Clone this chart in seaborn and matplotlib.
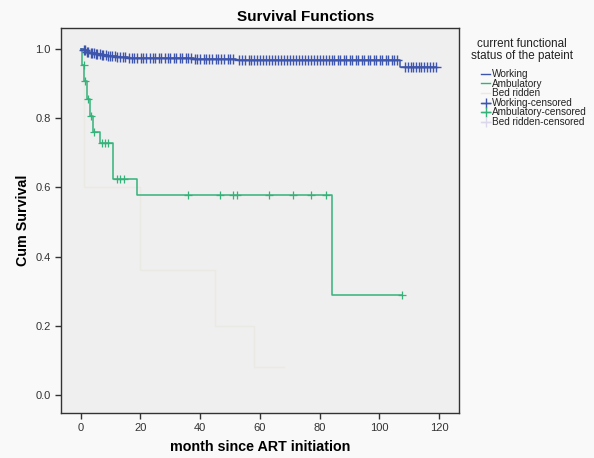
import seaborn as sns
import matplotlib.pyplot as plt
from matplotlib.lines import Line2D
import pandas as pd

# Kaplan-Meier steps
work_t = [0, 1, 2, 3, 5, 7, 9, 12, 16, 24, 38, 52, 107, 119]
work_s = [1.0, 0.996, 0.993, 0.990, 0.987, 0.984, 0.981, 0.978, 0.975, 0.973, 0.971, 0.968, 0.948, 0.948]

amb_t = [0, 0.5, 1.2, 2.0, 3.1, 4.2, 6.3, 10.8, 19.0, 84.0, 107.5]
amb_s = [1.0, 0.953, 0.908, 0.857, 0.808, 0.760, 0.729, 0.625, 0.578, 0.289, 0.289]

bed_t = [0, 1, 20, 40, 45, 52, 58, 68]
bed_s = [1.0, 0.60, 0.36, 0.36, 0.20, 0.20, 0.08, 0.08]

# censored observations
work_cens_t = [1.0, 1.5, 2.2, 2.6, 3.3, 3.8, 4.4, 5.0, 5.6, 6.3, 7.0, 7.6, 8.4, 9.1, 9.8,
               10.6, 11.4, 12.3, 13.1, 14.0, 15.0, 16.2, 17.1, 18.0, 19.0, 20.1, 21.0,
               22.0, 23.1, 24.2, 25.0, 26.1, 27.0, 28.2, 29.1, 30.0, 31.2, 32.0, 33.1,
               34.0, 35.2, 36.1, 37.0, 38.3, 39.0, 40.1, 41.2, 42.0, 43.1, 44.0, 45.2,
               46.0, 47.1, 48.0, 49.2, 50.1, 51.0, 53.0, 54.1, 55.0, 56.2, 57.0, 58.1,
               59.0, 60.2, 61.0, 62.1, 63.0, 64.2, 65.1, 66.0, 67.2, 68.0, 69.1, 70.0,
               71.2, 72.0, 73.1, 74.0, 75.2, 76.1, 77.0, 78.2, 79.0, 80.1, 81.0, 82.2,
               83.0, 84.1, 85.0, 86.2, 87.0, 88.1, 89.0, 90.2, 91.0, 92.1, 93.0, 94.2,
               95.0, 96.1, 97.0, 98.2, 99.0, 100.1, 101.0, 102.2, 103.0, 104.1, 105.0,
               106.0, 108.5, 109.6, 110.5, 111.4, 112.3, 113.2, 114.1, 115.0, 116.0,
               117.0, 118.0, 119.0]
amb_cens_t = [1.0, 1.6, 2.4, 3.4, 4.6, 7.2, 8.0, 9.2, 12.2, 13.2, 14.6,
              36.0, 46.5, 51.0, 52.2, 63.0, 71.0, 77.0, 82.0, 107.5]
amb_cens_s = [0.953, 0.908, 0.857, 0.808, 0.760, 0.729, 0.729, 0.729, 0.625, 0.625, 0.625,
              0.578, 0.578, 0.578, 0.578, 0.578, 0.578, 0.578, 0.578, 0.289]

blue = "#3e55ad"
green = "#35b27a"
beige = "#ebe9e4"
lilac = "#dcd8ec"


def step_value(ts, ss, x):
    v = ss[0]
    for t, s in zip(ts, ss):
        if t <= x:
            v = s
    return v


work_cens_s = [step_value(work_t, work_s, t) for t in work_cens_t]

work = pd.DataFrame({"t": work_t, "s": work_s})
amb = pd.DataFrame({"t": amb_t, "s": amb_s})
bed = pd.DataFrame({"t": bed_t, "s": bed_s})

plt.rcParams["font.family"] = ["Liberation Sans", "DejaVu Sans"]
fig = plt.figure(figsize=(5.94, 4.58), dpi=100, facecolor="#f9f9f9")
ax = fig.add_axes([61 / 594, 45 / 458, 398 / 594, 385 / 458])
ax.set_facecolor("#efefef")

sns.lineplot(data=bed, x="t", y="s", ax=ax, color=beige, drawstyle="steps-post",
             estimator=None, linewidth=1)
sns.lineplot(data=amb, x="t", y="s", ax=ax, color=green, drawstyle="steps-post",
             estimator=None, linewidth=1.1)
sns.lineplot(data=work, x="t", y="s", ax=ax, color=blue, drawstyle="steps-post",
             estimator=None, linewidth=1.1)
sns.scatterplot(x=amb_cens_t, y=amb_cens_s, ax=ax, marker="+", color=green,
                s=28, linewidth=0.9, zorder=4)
sns.scatterplot(x=work_cens_t, y=work_cens_s, ax=ax, marker="+", color=blue,
                s=45, linewidth=1.0, zorder=5)

ax.set_xlim(-6.6, 126.7)
ax.set_ylim(-0.052, 1.061)
ax.set_xticks([0, 20, 40, 60, 80, 100, 120])
ax.set_yticks([0.0, 0.2, 0.4, 0.6, 0.8, 1.0])
ax.set_yticklabels(["0.0", "0.2", "0.4", "0.6", "0.8", "1.0"])
ax.tick_params(direction="out", length=4, width=1, labelsize=8,
               colors="#333333", labelcolor="#333333")
for sp in ax.spines.values():
    sp.set_color("#333333")
    sp.set_linewidth(1)

ax.set_xlabel("month since ART initiation", fontsize=10.3, fontweight="bold", labelpad=5)
ax.set_ylabel("Cum Survival", fontsize=10.3, fontweight="bold", labelpad=4)
fig.suptitle("Survival Functions", x=0.515, y=1 - 10 / 458, va="top",
             fontsize=11, fontweight="bold")

# legend title drawn on its own so it can sit left of the entries' centre
fig.text(522 / 594, 1 - 50 / 458, "current functional\nstatus of the pateint",
         ha="center", va="center", fontsize=8.4, linespacing=1.0, color="#222222")

handles = [
    Line2D([0], [0], color=blue, lw=1),
    Line2D([0], [0], color=green, lw=1),
    Line2D([0], [0], color=beige, lw=1),
    Line2D([0], [0], color=blue, lw=1, marker="+", markersize=7),
    Line2D([0], [0], color=green, lw=1, marker="+", markersize=7),
    Line2D([0], [0], color=lilac, lw=1, marker="+", markersize=7),
]
labels = ["Working", "Ambulatory", "Bed ridden", "Working-censored",
          "Ambulatory-censored", "Bed ridden-censored"]
leg = fig.legend(handles, labels, loc="upper left", bbox_to_anchor=(477 / 594, 1 - 65 / 458),
                 fontsize=7.2, frameon=False, handlelength=0.9, handletextpad=0.2,
                 labelspacing=-0.04, handleheight=0.5, borderaxespad=0)
for txt in leg.get_texts():
    txt.set_color("#222222")

fig.savefig("out.png", dpi=100, facecolor=fig.get_facecolor())
